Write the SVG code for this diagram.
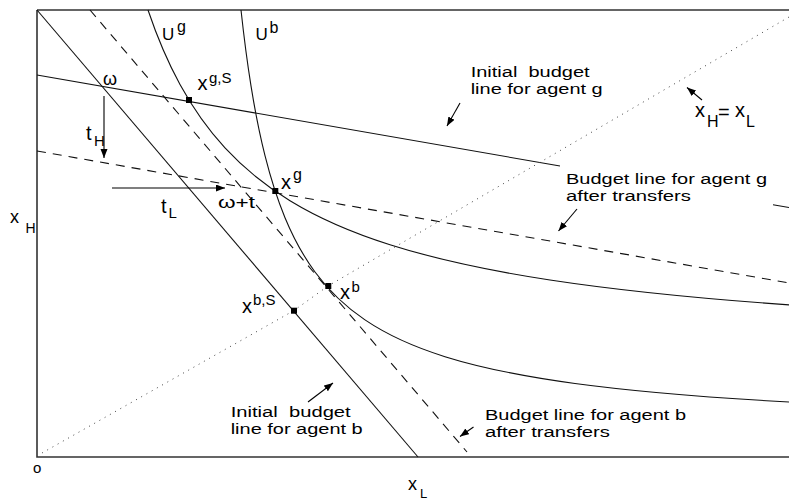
<svg xmlns="http://www.w3.org/2000/svg" width="789" height="499" viewBox="0 0 789 499">
<defs>
<marker id="ah" markerUnits="userSpaceOnUse" markerWidth="10" markerHeight="8" refX="9" refY="3.5" orient="auto"><path d="M0,0 L9,3.5 L0,7 z" fill="#000"/></marker>
</defs>
<style>
.ax{fill:none;stroke:#333;stroke-width:1.6}
.ln{fill:none;stroke:#111;stroke-width:1.1}
.ds{fill:none;stroke:#111;stroke-width:1.1;stroke-dasharray:9 7}
.dt{fill:none;stroke:#444;stroke-width:1;stroke-dasharray:1 5}
.ar{fill:none;stroke:#000;stroke-width:1.1;marker-end:url(#ah)}
text{font-family:"Liberation Sans",Arial,sans-serif;fill:#000;white-space:pre}
.lb{font-size:15.5px}
.mx{font-size:20px}
.sp{font-size:15px}
.pt{fill:#000}
</style>
<rect width="789" height="499" fill="#fff"/>
<g id="axes">
<path class="ax" d="M37,10 H789 M37,10 V457 H789"/>
</g>
<g id="connectors">
<path id="budget-b-initial" class="ln" d="M37,10 L418,457"/>
<path id="budget-b-after" class="ds" d="M90,10 L467,452"/>
<path id="budget-g-initial" class="ln" d="M37,75 L560,166 M773,204.7 L789,207.5"/>
<path id="budget-g-after" class="ds" d="M37,151 L789,283"/>
<path id="diagonal" class="dt" d="M42,453 L294,310.5 L328,286 L789,17"/>
<path id="Ug" class="ln" d="M148,10 Q162.1,51.7 180,84.5 Q199.6,120.3 225,147.9 Q252.9,178.1 290,200.7 Q331.9,226.3 390,244.7 Q455.5,265.5 550,280 Q647.2,294.8 789,304.9"/>
<path id="Ub" class="ln" d="M241,10 Q245.5,51.6 251,85.9 Q257.2,124.6 265,155.7 Q273.75,190.6 285,217.7 Q297.9,248.7 315,272 Q335.7,300.1 365,319.9 Q397.4,341.8 445,356.7 Q496.6,372.8 575,383.5 Q658.5,394.8 789,402"/>
<path class="ar" d="M104,96 L104,158"/>
<path class="ar" d="M112,188 L225,188"/>
<path class="ar" d="M460,103 L447,126"/>
<path class="ar" d="M577,209 L558.5,231"/>
<path class="ar" d="M702,100 L687,87.5"/>
<path class="ar" d="M308,402 L333,383"/>
<path class="ar" d="M473.5,427 L460,436.5"/>
</g>
<g id="points">
<rect class="pt" x="186" y="97" width="6" height="6"/>
<rect class="pt" x="272.3" y="188" width="6" height="6"/>
<rect class="pt" x="325.3" y="283" width="6" height="6"/>
<rect class="pt" x="291" y="307.7" width="6" height="6"/>
</g>
<g id="labels">
<text class="lb" x="470.7" y="77" textLength="119" lengthAdjust="spacingAndGlyphs">Initial  budget</text>
<text class="lb" x="470.7" y="93.5" textLength="132" lengthAdjust="spacingAndGlyphs">line for agent g</text>
<text class="lb" x="566" y="184" textLength="201" lengthAdjust="spacingAndGlyphs">Budget line for agent g</text>
<text class="lb" x="566" y="201" textLength="125" lengthAdjust="spacingAndGlyphs">after transfers</text>
<text class="lb" x="230.7" y="417" textLength="120" lengthAdjust="spacingAndGlyphs">Initial  budget</text>
<text class="lb" x="230.7" y="433.5" textLength="132" lengthAdjust="spacingAndGlyphs">line for agent b</text>
<text class="lb" x="485" y="420" textLength="201" lengthAdjust="spacingAndGlyphs">Budget line for agent b</text>
<text class="lb" x="485" y="437" textLength="125" lengthAdjust="spacingAndGlyphs">after transfers</text>
</g>
<g id="math">
<text x="162" y="40" font-size="17">U</text><text x="177" y="32" font-size="16">g</text>
<text x="255.5" y="40" font-size="17">U</text><text x="269.5" y="33.3" font-size="16">b</text>
<text class="mx" x="197.5" y="90">x</text><text class="sp" x="209" y="83">g,S</text>
<text class="mx" x="281" y="188.5">x</text><text x="293" y="180" font-size="16">g</text>
<text x="103" y="85" font-size="18">ω</text>
<text x="218" y="208" font-size="17" textLength="37" lengthAdjust="spacingAndGlyphs">ω+t</text>
<text class="mx" x="86" y="140">t</text><text class="sp" x="94" y="145.7">H</text>
<text class="mx" x="161" y="213">t</text><text class="sp" x="168.5" y="218">L</text>
<text x="10" y="223" font-size="18">x</text><text x="25.5" y="233" font-size="14">H</text>
<text x="408" y="490" font-size="18">x</text><text x="420" y="497.5" font-size="13">L</text>
<text x="33" y="473" font-size="15">o</text>
<text class="mx" x="242" y="313">x</text><text class="sp" x="253" y="305">b,S</text>
<text class="mx" x="340" y="299">x</text><text class="sp" x="351.5" y="291.5">b</text>
<text class="mx" x="695" y="117">x</text><text x="707" y="127" font-size="16">H</text><text class="mx" x="718" y="119">=</text><text class="mx" x="735" y="117">x</text><text x="746" y="127" font-size="16">L</text>
</g>
</svg>
